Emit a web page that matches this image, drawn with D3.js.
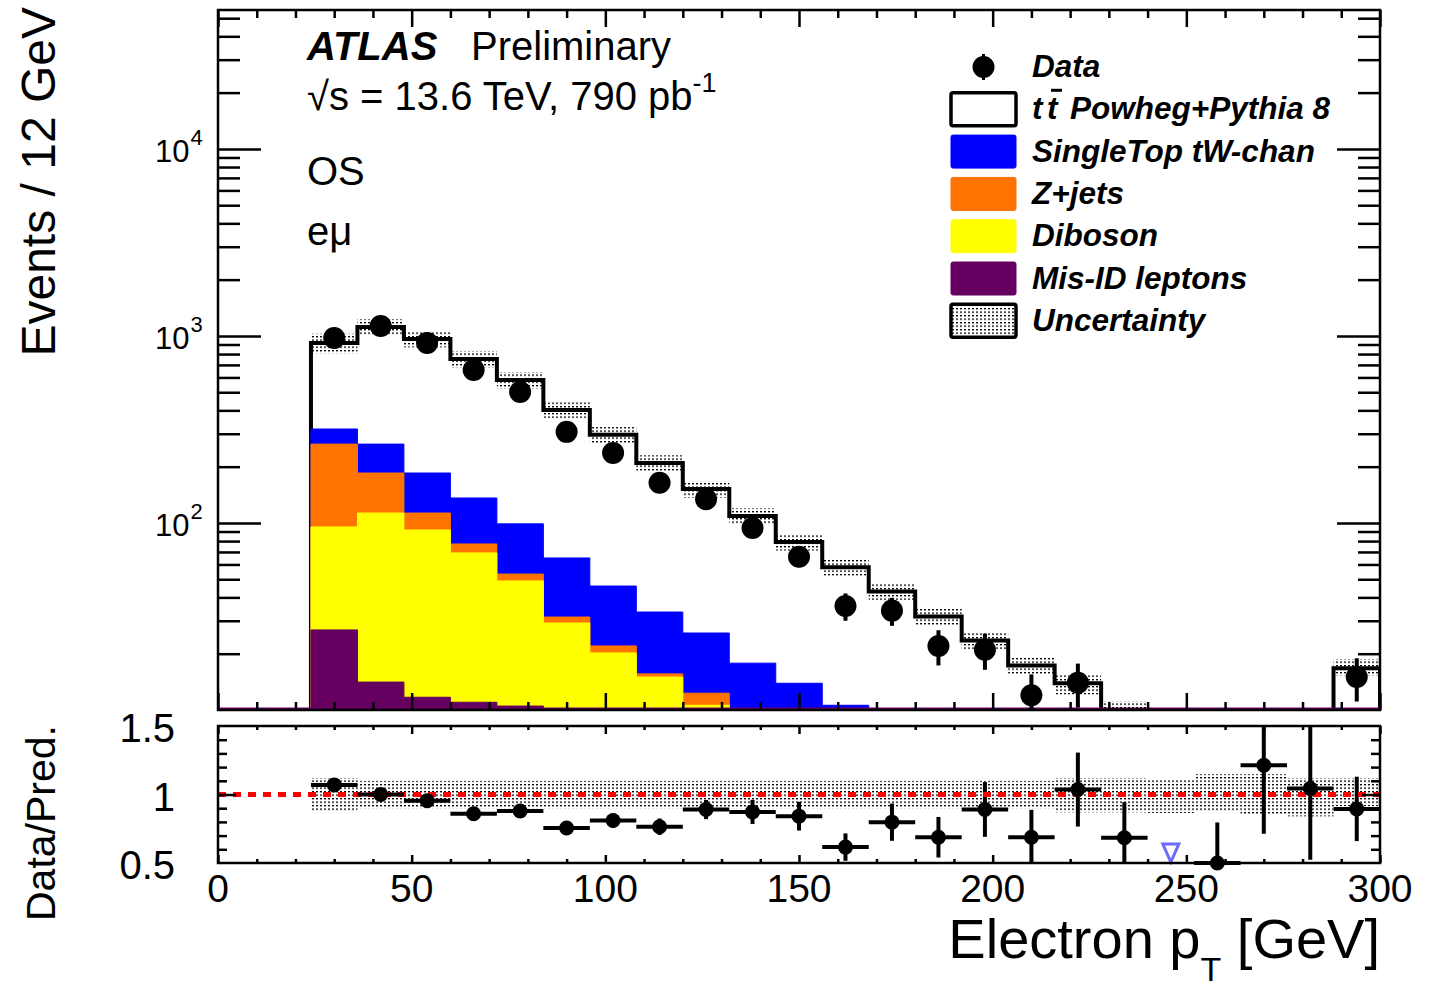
<!DOCTYPE html>
<html>
<head>
<meta charset="utf-8">
<style>
    body { margin: 0; background: #fff; }
    svg { font-family: 'Liberation Sans', Arial, Helvetica, sans-serif; }
</style>
</head>
<body>
<svg width="1436" height="987"></svg>

<script src="https://d3js.org/d3.v7.min.js"></script>
<script>
    // ---- data ----
    const binLow = [24, 36, 48, 60, 72, 84, 96, 108, 120, 132, 144, 156, 168, 180, 192, 204, 216, 228, 240, 252, 264, 276, 288];
    const binWidth = 12;

    const ttbar     = [600, 853, 779, 618, 483, 337, 250, 175.6, 126.2, 91.2, 65.1, 47.4, 35, 25.6, 18.9, 13.8, 11.2, 7.8, 6.0, 4.6, 3.6, 2.9, 14.1];
    const singleTop = [54, 79, 72, 58.8, 45.6, 33.6, 24, 17.8, 13.5, 8.8, 7.3, 5.8, 4.5, 3.4, 2.6, 2.0, 1.5, 1.2, 0.9, 0.7, 0.6, 0.5, 1.6];
    const zjets     = [168.7, 72, 21.2, 8.0, 4.3, 2.2, 1.8, 0.6, 1.7, 1.0, 0.8, 0.6, 0.4, 0.3, 0.3, 0.2, 0.2, 0.1, 0.1, 0.1, 0.1, 0.0, 0.1];
    const diboson   = [68.5, 98.9, 80.1, 58.2, 38.5, 21.2, 14.2, 10.5, 7.1, 5.5, 4.0, 3.0, 2.2, 1.6, 1.2, 0.9, 0.7, 0.5, 0.4, 0.3, 0.2, 0.2, 0.6];
    const misID     = [26.8, 14.1, 11.7, 11.0, 10.5, 8.0, 6.0, 4.5, 3.5, 2.5, 1.8, 1.2, 0.9, 0.7, 0.5, 0.4, 0.3, 0.3, 0.2, 0.2, 0.1, 0.1, 0.3];

    const data    = [975, 1130, 918, 658, 501, 307, 237, 164, 134, 94, 66, 36, 34, 22, 21, 12, 14, 7, 0, 3, 6, 4, 15];
    const dataErr = [31, 34, 30, 26, 22, 18, 15, 13, 12, 10, 8, 6, 5.8, 4.7, 4.6, 3.5, 3.7, 2.6, 0, 1.7, 2.4, 2, 3.9];

    const uncUp = [0.12, 0.10, 0.10, 0.10, 0.10, 0.10, 0.10, 0.10, 0.10, 0.10, 0.10, 0.10, 0.10, 0.10, 0.10, 0.10, 0.12, 0.12, 0.11, 0.15, 0.15, 0.12, 0.12];
    const uncDn = [0.12, 0.10, 0.10, 0.10, 0.10, 0.10, 0.10, 0.10, 0.10, 0.10, 0.10, 0.10, 0.10, 0.10, 0.10, 0.10, 0.13, 0.13, 0.134, 0.122, 0.146, 0.16, 0.085];

    const ratio    = [1.07, 1.0, 0.955, 0.86, 0.88, 0.755, 0.81, 0.765, 0.89, 0.873, 0.842, 0.616, 0.798, 0.688, 0.891, 0.688, 1.036, 0.684, null, 0.5, 1.214, 1.044, 0.895];
    const ratioErr = [0.035, 0.03, 0.03, 0.035, 0.04, 0.045, 0.05, 0.06, 0.07, 0.088, 0.105, 0.10, 0.136, 0.148, 0.2, 0.2, 0.27, 0.26, 0, 0.296, 0.5, 0.52, 0.235];
    const arrowBins = [240];   // ratio off scale (below 0.5)

    const xTicks = [0, 50, 100, 150, 200, 250, 300];
    const ratioTicks = [0.5, 1, 1.5];
    const ratioTickLabels = ["0.5", "1", "1.5"];
    const mainLabelPowers = [2, 3, 4];

    const colors = { singleTop: "#0000ff", zjets: "#ff7300", diboson: "#ffff00", misID: "#660060" };

    // ---- layout ----
    const left = 218, right = 1380;
    const mainTop = 10, mainBottom = 710;
    const ratTop = 726, ratBottom = 863;

    let svg = d3.select("svg");

    let x = d3.scaleLinear().domain([0, 300]).range([left, right]);
    let y = d3.scaleLog().domain([10, 5.53e4]).range([mainBottom, mainTop]).clamp(true);
    let yR = d3.scaleLinear().domain([0.5, 1.5]).range([ratBottom, ratTop]);

    // stipple pattern for uncertainty
    let defs = svg.append("defs");
    let pat = defs.append("pattern")
        .attr("id", "unc")
        .attr("patternUnits", "userSpaceOnUse")
        .attr("width", 4).attr("height", 3.5);
    pat.append("rect").attr("x", 0).attr("y", 0).attr("width", 2).attr("height", 1.3).attr("fill", "#000");

    defs.append("clipPath").attr("id", "clipMain")
        .append("rect").attr("x", left).attr("y", mainTop).attr("width", right - left).attr("height", mainBottom - mainTop);
    defs.append("clipPath").attr("id", "clipRat")
        .append("rect").attr("x", left).attr("y", ratTop).attr("width", right - left).attr("height", ratBottom - ratTop);

    // build cumulative stack
    let bins = binLow.map((lo, i) => {
        let c1 = misID[i];
        let c2 = c1 + diboson[i];
        let c3 = c2 + zjets[i];
        let c4 = c3 + singleTop[i];
        let c5 = c4 + ttbar[i];
        return { lo: lo, hi: lo + binWidth, mid: lo + binWidth / 2, misID: c1, diboson: c2, zjets: c3, singleTop: c4, total: c5,
                 data: data[i], err: dataErr[i], up: uncUp[i], dn: uncDn[i], ratio: ratio[i], rerr: ratioErr[i] };
    });

    function stepPoints(key) {
        let pts = bins.map(b => ({ x: b.lo, v: b[key] }));
        pts.push({ x: bins[bins.length - 1].hi, v: bins[bins.length - 1][key] });
        return pts;
    }

    let area = d3.area()
        .curve(d3.curveStepAfter)
        .x(d => x(d.x))
        .y0(y(10))
        .y1(d => y(d.v));

    let main = svg.append("g").attr("clip-path", "url(#clipMain)");

    // ttbar (top of stack) with outline
    main.append("path")
        .attr("d", area(stepPoints("total")))
        .style("fill", "#fff")
        .style("stroke", "#000")
        .style("stroke-width", 4)
        .style("stroke-linejoin", "miter");

    ["singleTop", "zjets", "diboson", "misID"].forEach(k => {
        main.append("path")
            .attr("d", area(stepPoints(k)))
            .style("fill", colors[k])
            .style("stroke", colors[k])
            .style("stroke-width", 1);
    });

    // thin mis-ID line along the bottom
    main.append("line")
        .attr("x1", x(0)).attr("x2", x(300))
        .attr("y1", y(10) - 1.5).attr("y2", y(10) - 1.5)
        .style("stroke", colors.misID).style("stroke-width", 2);

    // uncertainty band
    main.selectAll(".band")
        .data(bins)
        .join("rect")
        .attr("class", "band")
        .attr("x", d => x(d.lo))
        .attr("width", d => x(d.hi) - x(d.lo))
        .attr("y", d => y(d.total * (1 + d.up)))
        .attr("height", d => Math.max(0, y(d.total * (1 - d.dn)) - y(d.total * (1 + d.up))))
        .style("fill", "url(#unc)");

    // data error bars + markers
    let shown = bins.filter(b => b.data >= 10);
    main.selectAll(".derr")
        .data(shown)
        .join("line")
        .attr("x1", d => x(d.mid)).attr("x2", d => x(d.mid))
        .attr("y1", d => y(d.data + d.err))
        .attr("y2", d => y(Math.max(d.data - d.err, 1)))
        .style("stroke", "#000").style("stroke-width", 4);
    main.selectAll(".dpt")
        .data(shown)
        .join("circle")
        .attr("cx", d => x(d.mid)).attr("cy", d => y(d.data))
        .attr("r", 11)
        .style("fill", "#000");

    // ---- ratio panel ----
    let rat = svg.append("g");
    let ratClip = rat.append("g").attr("clip-path", "url(#clipRat)");

    ratClip.selectAll(".rband")
        .data(bins)
        .join("rect")
        .attr("x", d => x(d.lo))
        .attr("width", d => x(d.hi) - x(d.lo))
        .attr("y", d => yR(1 + d.up))
        .attr("height", d => yR(1 - d.dn) - yR(1 + d.up))
        .style("fill", "url(#unc)");

    rat.append("line")
        .attr("x1", x(0)).attr("x2", x(300))
        .attr("y1", yR(1)).attr("y2", yR(1))
        .style("stroke", "#ff0000")
        .style("stroke-width", 5)
        .style("stroke-dasharray", "8,7");

    let rpts = bins.filter(b => b.ratio !== null);
    ratClip.selectAll(".rv")
        .data(rpts)
        .join("line")
        .attr("x1", d => x(d.mid)).attr("x2", d => x(d.mid))
        .attr("y1", d => yR(d.ratio + d.rerr))
        .attr("y2", d => yR(d.ratio - d.rerr))
        .style("stroke", "#000").style("stroke-width", 4);
    rat.selectAll(".rh")
        .data(rpts)
        .join("line")
        .attr("x1", d => x(d.lo)).attr("x2", d => x(d.hi))
        .attr("y1", d => yR(d.ratio)).attr("y2", d => yR(d.ratio))
        .style("stroke", "#000").style("stroke-width", 4);
    rat.selectAll(".rpt")
        .data(rpts)
        .join("circle")
        .attr("cx", d => x(d.mid)).attr("cy", d => yR(d.ratio))
        .attr("r", 7.5)
        .style("fill", "#000");

    // off-scale arrows
    rat.selectAll(".arrow")
        .data(arrowBins)
        .join("path")
        .attr("d", lo => {
            let cx = x(lo + binWidth / 2), yb = yR(0.5);
            return `M${cx - 8},${yb - 19} L${cx + 8},${yb - 19} L${cx},${yb - 1} Z`;
        })
        .style("fill", "none")
        .style("stroke", "#6b6bff")
        .style("stroke-width", 3);

    // ---- axes / ticks ----
    function tickAxis(axisFn, scale, values, len, tx, ty) {
        svg.append("g")
            .attr("transform", `translate(${tx},${ty})`)
            .call(axisFn(scale).tickValues(values).tickSize(len).tickFormat(""))
            .call(g => g.select(".domain").remove())
            .call(g => g.selectAll("line").style("stroke", "#000").style("stroke-width", 2.5));
    }

    let xMinor = d3.range(0, 301, 10).filter(v => v % 50 !== 0);
    // main panel x ticks (bottom pointing up, top pointing down)
    tickAxis(d3.axisTop, x, xTicks, 17, 0, mainBottom);
    tickAxis(d3.axisTop, x, xMinor, 8, 0, mainBottom);
    tickAxis(d3.axisBottom, x, xTicks, 17, 0, mainTop);
    tickAxis(d3.axisBottom, x, xMinor, 8, 0, mainTop);
    // ratio panel x ticks
    tickAxis(d3.axisTop, x, xTicks, 8, 0, ratBottom);
    tickAxis(d3.axisTop, x, xMinor, 4, 0, ratBottom);
    tickAxis(d3.axisBottom, x, xTicks, 8, 0, ratTop);
    tickAxis(d3.axisBottom, x, xMinor, 4, 0, ratTop);

    // main panel log y ticks
    let yAll = y.ticks().filter(v => v > 10 && v < 5.53e4);
    let yMajor = yAll.filter(v => Math.abs(Math.log10(v) - Math.round(Math.log10(v))) < 1e-9);
    let yMinor = yAll.filter(v => !yMajor.includes(v));
    tickAxis(d3.axisRight, y, yMajor, 43, left, 0);
    tickAxis(d3.axisRight, y, yMinor, 22, left, 0);
    tickAxis(d3.axisLeft, y, yMajor, 43, right, 0);
    tickAxis(d3.axisLeft, y, yMinor, 22, right, 0);

    // ratio y ticks
    let rMinor = d3.range(0.6, 1.45, 0.1).filter(v => Math.abs(v - 1) > 1e-6);
    tickAxis(d3.axisRight, yR, rMinor, 9, left, 0);
    tickAxis(d3.axisRight, yR, [1], 18, left, 0);
    tickAxis(d3.axisLeft, yR, rMinor, 9, right, 0);
    tickAxis(d3.axisLeft, yR, [1], 18, right, 0);

    // frames
    svg.append("rect").attr("x", left).attr("y", mainTop).attr("width", right - left).attr("height", mainBottom - mainTop)
        .style("fill", "none").style("stroke", "#000").style("stroke-width", 2.5);
    svg.append("rect").attr("x", left).attr("y", ratTop).attr("width", right - left).attr("height", ratBottom - ratTop)
        .style("fill", "none").style("stroke", "#000").style("stroke-width", 2.5);

    // tick labels
    svg.selectAll(".xlab")
        .data(xTicks)
        .join("text")
        .attr("x", d => x(d)).attr("y", 902)
        .attr("text-anchor", "middle")
        .style("font-size", "39px")
        .text(d => d);

    svg.selectAll(".rlab")
        .data(ratioTicks)
        .join("text")
        .attr("x", 175).attr("y", d => yR(d) + 16)
        .attr("text-anchor", "end")
        .style("font-size", "40px")
        .text((d, i) => ratioTickLabels[i]);

    let ylab = svg.selectAll(".ylab")
        .data(mainLabelPowers)
        .join("text")
        .attr("x", 155).attr("y", d => y(Math.pow(10, d)) + 13)
        .style("font-size", "31px");
    ylab.append("tspan").text("10");
    ylab.append("tspan").attr("dx", 1).attr("dy", -17).style("font-size", "22px").text(d => d);

    // axis titles
    svg.append("text")
        .attr("transform", "translate(55,7) rotate(-90)")
        .attr("text-anchor", "end")
        .style("font-size", "48px")
        .text("Events / 12 GeV");

    svg.append("text")
        .attr("transform", "translate(55,725) rotate(-90)")
        .attr("text-anchor", "end")
        .style("font-size", "41px")
        .text("Data/Pred.");

    let xt = svg.append("text")
        .attr("x", right).attr("y", 958)
        .attr("text-anchor", "end")
        .style("font-size", "56px");
    xt.append("tspan").text("Electron p");
    xt.append("tspan").attr("dy", 23).style("font-size", "34px").text("T");
    xt.append("tspan").attr("dy", -23).text(" [GeV]");

    // ATLAS labels
    svg.append("text").attr("x", 307).attr("y", 60)
        .style("font-size", "40px").style("font-weight", "bold").style("font-style", "italic")
        .text("ATLAS");
    svg.append("text").attr("x", 471).attr("y", 60)
        .style("font-size", "40px")
        .text("Preliminary");
    let lum = svg.append("text").attr("x", 307).attr("y", 110).style("font-size", "40px");
    lum.append("tspan").text("\u221As = 13.6 TeV, 790 pb");
    lum.append("tspan").attr("dy", -18).style("font-size", "27px").text("-1");
    svg.append("text").attr("x", 307).attr("y", 185).style("font-size", "40px").text("OS");
    svg.append("text").attr("x", 307).attr("y", 245).style("font-size", "40px").text("e\u03BC");

    // ---- legend ----
    const legendItems = [
        { label: "Data", type: "marker" },
        { label: "Powheg+Pythia 8", type: "ttbar" },
        { label: "SingleTop tW-chan", type: "fill", color: colors.singleTop },
        { label: "Z+jets", type: "fill", color: colors.zjets },
        { label: "Diboson", type: "fill", color: colors.diboson },
        { label: "Mis-ID leptons", type: "fill", color: colors.misID },
        { label: "Uncertainty", type: "unc" }
    ];
    const lgX = 950, lgW = 67, lgH = 33, lgY0 = 67, lgDy = 42.3, lgTextX = 1032;

    let lg = svg.append("g");
    legendItems.forEach((it, i) => {
        let cy = lgY0 + i * lgDy;
        if (it.type === "marker") {
            lg.append("line").attr("x1", lgX + lgW / 2).attr("x2", lgX + lgW / 2)
                .attr("y1", cy - 13).attr("y2", cy + 13)
                .style("stroke", "#000").style("stroke-width", 3);
            lg.append("circle").attr("cx", lgX + lgW / 2).attr("cy", cy).attr("r", 11).style("fill", "#000");
        } else {
            let r = lg.append("rect")
                .attr("x", lgX + 1).attr("y", cy - lgH / 2)
                .attr("width", lgW - 2).attr("height", lgH)
                .attr("rx", 2);
            if (it.type === "fill") {
                r.style("fill", it.color).style("stroke", it.color).style("stroke-width", 1);
            } else if (it.type === "ttbar") {
                r.style("fill", "#fff").style("stroke", "#000").style("stroke-width", 3.5);
            } else {
                r.style("fill", "url(#unc)").style("stroke", "#000").style("stroke-width", 3.5);
            }
        }
        let tx = lgTextX;
        let fs = "31.5px";
        if (it.type === "ttbar") {
            lg.append("text").attr("x", tx).attr("y", cy + 10)
                .style("font-size", fs).style("font-weight", "bold").style("font-style", "italic").text("t");
            lg.append("text").attr("x", tx + 15).attr("y", cy + 10)
                .style("font-size", fs).style("font-weight", "bold").style("font-style", "italic").text("t");
            lg.append("line").attr("x1", tx + 19).attr("x2", tx + 30)
                .attr("y1", cy - 19).attr("y2", cy - 19)
                .style("stroke", "#000").style("stroke-width", 3);
            tx = tx + 38;
        }
        lg.append("text").attr("x", tx).attr("y", cy + 10)
            .style("font-size", fs).style("font-weight", "bold").style("font-style", "italic")
            .text(it.label);
    });
</script>
</body>
</html>
